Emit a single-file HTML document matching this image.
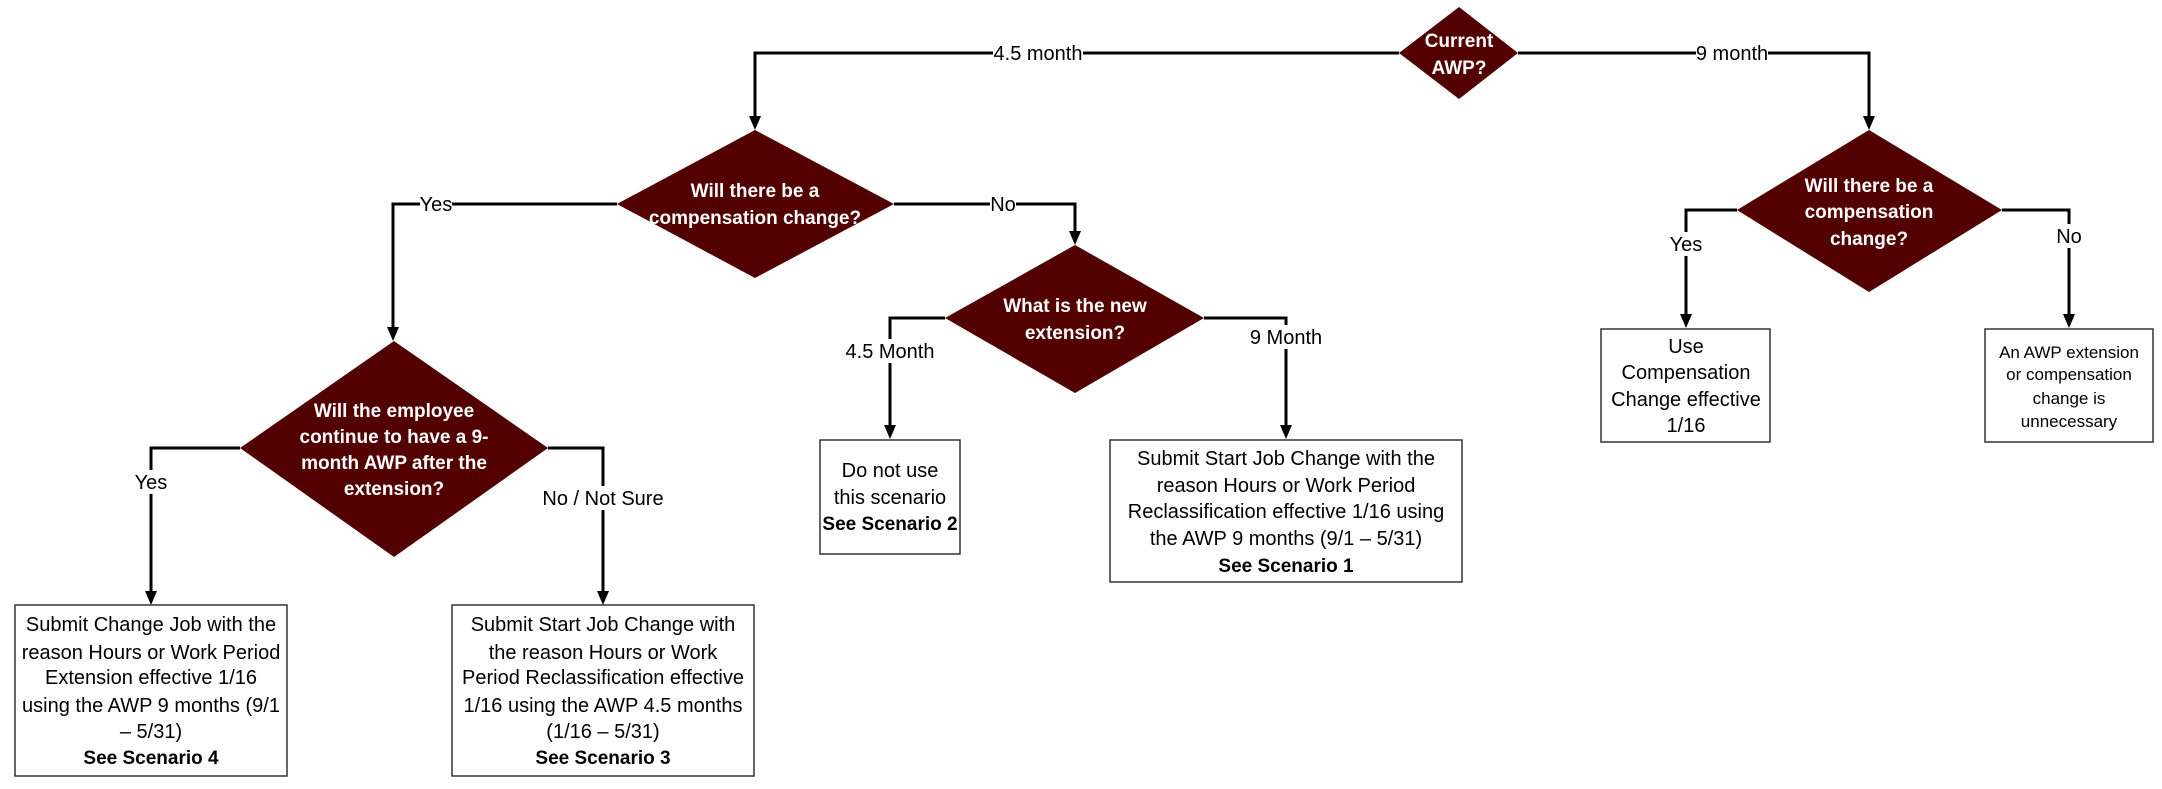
<!DOCTYPE html>
<html><head><meta charset="utf-8"><style>
html,body{margin:0;padding:0;background:#fff;}
svg{display:block;}
.d{fill:#520000;}
.l{fill:none;stroke:#000;stroke-width:3;}
.a{fill:#000;}
.b{fill:#fff;stroke:#333;stroke-width:1.5;}
.wt{font-family:"Liberation Sans Narrow","Liberation Sans",sans-serif;font-weight:bold;fill:#fff;font-size:19px;text-anchor:middle;}
.bt{font-family:"Liberation Sans Narrow","Liberation Sans",sans-serif;fill:#000;font-size:20px;text-anchor:middle;}
.bb{font-weight:bold;font-size:19px;}
.lb{font-family:"Liberation Sans Narrow","Liberation Sans",sans-serif;fill:#000;font-size:20px;text-anchor:middle;}
.sm{font-size:17px;}
</style></head><body>
<svg width="2162" height="789" viewBox="0 0 2162 789" xmlns="http://www.w3.org/2000/svg">
<polyline class="l" points="1399,53 755,53 755,118"/>
<polygon class="a" points="749,116 761,116 755,130"/>
<polyline class="l" points="1518,53 1869,53 1869,118"/>
<polygon class="a" points="1863,116 1875,116 1869,130"/>
<polyline class="l" points="617,204 393,204 393,329"/>
<polygon class="a" points="387,327 399,327 393,341"/>
<polyline class="l" points="894,204 1075,204 1075,233"/>
<polygon class="a" points="1069,231 1081,231 1075,245"/>
<polyline class="l" points="240,448 151,448 151,593"/>
<polygon class="a" points="145,591 157,591 151,605"/>
<polyline class="l" points="548,448 603,448 603,593"/>
<polygon class="a" points="597,591 609,591 603,605"/>
<polyline class="l" points="945,318 890,318 890,427"/>
<polygon class="a" points="884,425 896,425 890,439"/>
<polyline class="l" points="1204,318 1286,318 1286,427"/>
<polygon class="a" points="1280,425 1292,425 1286,439"/>
<polyline class="l" points="1737,210 1686,210 1686,316"/>
<polygon class="a" points="1680,314 1692,314 1686,328"/>
<polyline class="l" points="2002,210 2069,210 2069,316"/>
<polygon class="a" points="2063,314 2075,314 2069,328"/>
<rect x="993" y="42" width="90" height="22" fill="#fff"/><text class="lb" x="1038" y="60">4.5 month</text>
<rect x="1696" y="42" width="72" height="22" fill="#fff"/><text class="lb" x="1732" y="60">9 month</text>
<rect x="420" y="193" width="32" height="22" fill="#fff"/><text class="lb" x="436" y="211">Yes</text>
<rect x="990" y="193" width="26" height="22" fill="#fff"/><text class="lb" x="1003" y="211">No</text>
<rect x="132" y="470" width="38" height="24" fill="#fff"/><text class="lb" x="151" y="489">Yes</text>
<rect x="538" y="486" width="130" height="24" fill="#fff"/><text class="lb" x="603" y="505">No / Not Sure</text>
<rect x="838" y="339" width="104" height="24" fill="#fff"/><text class="lb" x="890" y="358">4.5 Month</text>
<rect x="1244" y="325" width="84" height="24" fill="#fff"/><text class="lb" x="1286" y="344">9 Month</text>
<rect x="1668" y="232" width="36" height="24" fill="#fff"/><text class="lb" x="1686" y="251">Yes</text>
<rect x="2055" y="224" width="28" height="24" fill="#fff"/><text class="lb" x="2069" y="243">No</text>
<polygon class="d" points="1459,7 1518,53 1459,99 1399,53"/>
<text class="wt" x="1459" y="47">Current</text><text class="wt" x="1459" y="74">AWP?</text>
<polygon class="d" points="755,130 894,204 755,278 617,204"/>
<text class="wt" x="755" y="197">Will there be a</text><text class="wt" x="755" y="224">compensation change?</text>
<polygon class="d" points="394,341 548,448 394,557 240,448"/>
<text class="wt" x="394" y="417">Will the employee</text><text class="wt" x="394" y="443">continue to have a 9-</text><text class="wt" x="394" y="469">month AWP after the</text><text class="wt" x="394" y="495">extension?</text>
<polygon class="d" points="1075,245 1204,318 1075,393 945,318"/>
<text class="wt" x="1075" y="312">What is the new</text><text class="wt" x="1075" y="339">extension?</text>
<polygon class="d" points="1869,130 2002,210 1869,292 1737,210"/>
<text class="wt" x="1869" y="192">Will there be a</text><text class="wt" x="1869" y="218">compensation</text><text class="wt" x="1869" y="245">change?</text>
<rect class="b" x="15" y="605" width="272" height="171"/>
<text class="bt" x="151" y="631">Submit Change Job with the</text><text class="bt" x="151" y="659">reason Hours or Work Period</text><text class="bt" x="151" y="684">Extension effective 1/16</text><text class="bt" x="151" y="712">using the AWP 9 months (9/1</text><text class="bt" x="151" y="738">– 5/31)</text><text class="bt bb" x="151" y="764">See Scenario 4</text>
<rect class="b" x="452" y="605" width="302" height="171"/>
<text class="bt" x="603" y="631">Submit Start Job Change with</text><text class="bt" x="603" y="659">the reason Hours or Work</text><text class="bt" x="603" y="684">Period Reclassification effective</text><text class="bt" x="603" y="712">1/16 using the AWP 4.5 months</text><text class="bt" x="603" y="738">(1/16 – 5/31)</text><text class="bt bb" x="603" y="764">See Scenario 3</text>
<rect class="b" x="820" y="440" width="140" height="114"/>
<text class="bt" x="890" y="477">Do not use</text><text class="bt" x="890" y="504">this scenario</text><text class="bt bb" x="890" y="530">See Scenario 2</text>
<rect class="b" x="1110" y="440" width="352" height="142"/>
<text class="bt" x="1286" y="465">Submit Start Job Change with the</text><text class="bt" x="1286" y="492">reason Hours or Work Period</text><text class="bt" x="1286" y="518">Reclassification effective 1/16 using</text><text class="bt" x="1286" y="545">the AWP 9 months (9/1 – 5/31)</text><text class="bt bb" x="1286" y="572">See Scenario 1</text>
<rect class="b" x="1601" y="329" width="169" height="113"/>
<text class="bt" x="1686" y="353">Use</text><text class="bt" x="1686" y="379">Compensation</text><text class="bt" x="1686" y="406">Change effective</text><text class="bt" x="1686" y="432">1/16</text>
<rect class="b" x="1985" y="329" width="168" height="113"/>
<text class="bt sm" x="2069" y="358">An AWP extension</text><text class="bt sm" x="2069" y="380">or compensation</text><text class="bt sm" x="2069" y="404">change is</text><text class="bt sm" x="2069" y="427">unnecessary</text>
</svg>
</body></html>
